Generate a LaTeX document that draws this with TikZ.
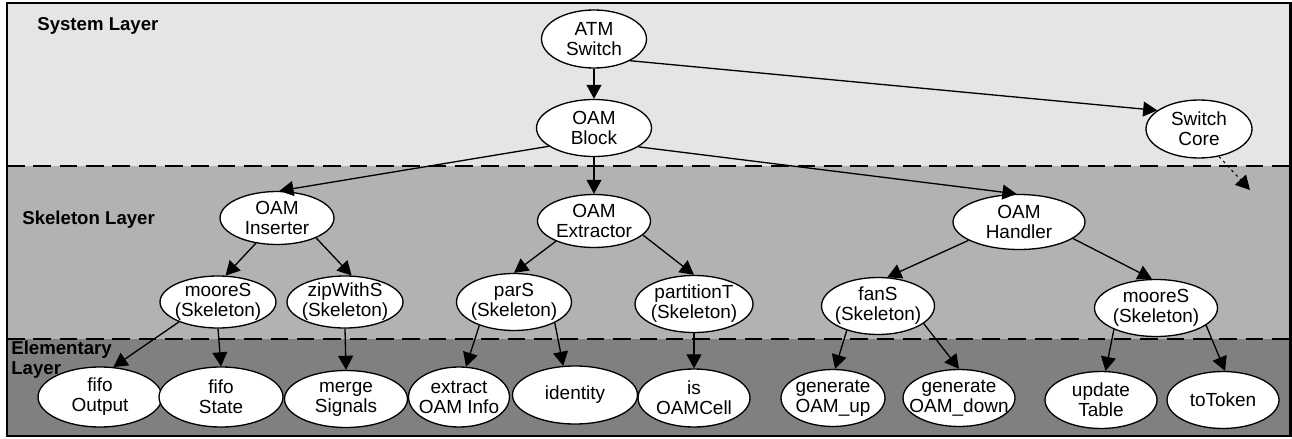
\documentclass[tikz,border=0pt]{standalone}
\usepackage{fontspec}
\setmainfont{Liberation Sans}
\usepackage{tikz}
\usetikzlibrary{positioning,arrows.meta,shapes.geometric}

\begin{document}
\begin{tikzpicture}[
  x=0.02cm, y=-0.02cm,
  blob/.style={draw, ellipse, fill=white, line width=0.75pt, inner xsep=-6pt, inner ysep=-4pt,
    minimum width=2.3cm, minimum height=1.14cm, align=center, font=\fontsize{10.8pt}{11.4pt}\selectfont},
  layer/.style={anchor=west, align=left, inner sep=0pt, font=\fontsize{10.6pt}{11.4pt}\selectfont\bfseries},
  arrow/.style={-{Triangle[length=8pt,width=8.5pt]}, line width=0.75pt},
  sep/.style={line width=1.1pt, dash pattern=on 10pt off 5pt},
]
\useasboundingbox (0,0) rectangle (1292,439);
% --- layer bands ---
\fill[black!10] (7,3) rectangle (1290,166);
\fill[black!30] (7,166) rectangle (1290,339);
\fill[black!50] (7,339) rectangle (1290,436);
\draw[sep] (7,166) -- (1290,166);
\draw[sep] (7,339) -- (1290,339);
\draw[line width=1.7pt] (7,3) rectangle (1290,436);
\node[layer] (lsys) at (37,26) {System Layer};
\node[layer] (lskel) at (22,220) {Skeleton Layer};
\node[layer] (lelem) at (11,360) {Elementary\\Layer};
% --- system layer ---
\node[blob, minimum width=2.1cm, minimum height=1.16cm] (atm) at (594,39) {ATM\\Switch};
\node[blob, minimum height=1.14cm] (blk) at (594,128) {OAM\\Block};
\node[blob, minimum width=2.12cm, minimum height=1.16cm] (core) at (1199,129) {Switch\\Core};
\coordinate (coreOut) at (1250,190);
% --- skeleton layer ---
\node[blob, minimum width=2.28cm, minimum height=1.06cm] (ins) at (277,218) {OAM\\Inserter};
\node[blob, minimum width=2.26cm, minimum height=1.06cm] (ext) at (594,221) {OAM\\Extractor};
\node[blob, minimum width=2.64cm, minimum height=1.1cm] (hdl) at (1019,222) {OAM\\Handler};
\node[blob, minimum width=2.32cm, minimum height=1.04cm] (moo1) at (218,302) {mooreS\\(Skeleton)};
\node[blob, minimum width=2.32cm, minimum height=1.04cm] (zip) at (345,302) {zipWithS\\(Skeleton)};
\node[blob] (pars) at (514,302) {parS\\(Skeleton)};
\node[blob, minimum width=2.36cm] (part) at (694,304) {partitionT\\(Skeleton)};
\node[blob, minimum width=2.26cm] (fan) at (878,306) {fanS\\(Skeleton)};
\node[blob, minimum width=2.46cm] (moo2) at (1156,308) {mooreS\\(Skeleton)};
% --- elementary layer ---
\node[blob, minimum width=2.48cm, minimum height=1.2cm] (fout) at (100,397) {fifo\\Output};
\node[blob, minimum width=2.48cm, minimum height=1.2cm] (fstate) at (221,397) {fifo\\State};
\node[blob, minimum width=2.46cm, minimum height=1.14cm] (merge) at (346,399) {merge\\Signals};
\node[blob, minimum width=2.02cm, minimum height=1.2cm] (extr) at (459,397) {extract\\OAM Info};
\node[blob, minimum width=2.5cm, minimum height=1.16cm] (ident) at (575,395) {identity};
\node[blob, minimum width=2.24cm, minimum height=1.16cm] (isoam) at (694,398) {is\\OAMCell};
\node[blob, minimum width=2.08cm] (gup) at (833,398) {generate\\OAM\_up};
\node[blob, minimum width=2.24cm] (gdown) at (959,398) {generate\\OAM\_down};
\node[blob, minimum width=2.24cm] (upd) at (1101,400) {update\\Table};
\node[blob, minimum width=2.24cm] (tok) at (1223,400) {toToken};
% --- connectors ---
\draw[arrow] (atm.south) -- (blk.north);
\draw[arrow] (atm.-31) -- (core.156);
\draw[arrow, dash pattern=on 1.5pt off 2pt, line width=0.6pt] (core.-54) -- (coreOut);
\draw[arrow] (blk.202) -- (ins.85);
\draw[arrow] (blk.south) -- (ext.north);
\draw[arrow] (blk.-23) -- (hdl.95);
\draw[arrow] (ins.230) -- (moo1.74);
\draw[arrow] (ins.-27) -- (zip.76);
\draw[arrow] (ext.208) -- (pars.north);
\draw[arrow] (ext.-16) -- (part.north);
\draw[arrow] (hdl.200) -- (fan.72);
\draw[arrow] (hdl.-17.5) -- (moo2.98);
\draw[arrow] (moo1.207) -- (fout.66);
\draw[arrow] (moo1.south) -- (fstate.north);
\draw[arrow] (zip.south) -- (merge.north);
\draw[arrow] (pars.214) -- (extr.77);
\draw[arrow] (pars.-27) -- (ident.112);
\draw[arrow] (part.south) -- (isoam.north);
\draw[arrow] (fan.218) -- (gup.86);
\draw[arrow] (fan.-21) -- (gdown.north);
\draw[arrow] (moo2.207) -- (upd.81);
\draw[arrow] (moo2.-19) -- (tok.86);
\end{tikzpicture}
\end{document}
